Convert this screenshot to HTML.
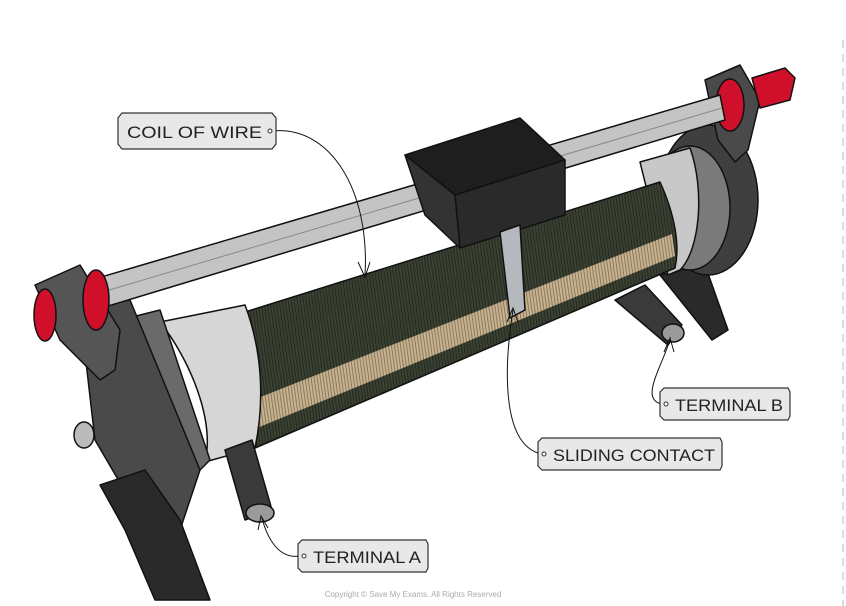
<!DOCTYPE html>
<html><head><meta charset="utf-8"><style>
body{margin:0;background:#fff;}
svg{display:block}
text{font-family:"Liberation Sans",sans-serif;}
</style></head><body>
<svg width="846" height="606" viewBox="0 0 846 606" xmlns="http://www.w3.org/2000/svg">
<defs>
<pattern id="coil" width="3" height="10" patternUnits="userSpaceOnUse" patternTransform="rotate(-8)">
<rect width="3" height="10" fill="#3a4233"/><rect width="1" height="10" fill="#25291f"/>
</pattern>
<pattern id="tan" width="3" height="10" patternUnits="userSpaceOnUse" patternTransform="rotate(-8)">
<rect width="3" height="10" fill="#c8b28f"/><rect width="1" height="10" fill="#8a7a5e"/>
</pattern>
</defs>
<line x1="843" y1="40" x2="843" y2="606" stroke="#ddd" stroke-width="2" stroke-dasharray="8,6"/>
<g stroke="#111" stroke-width="1.5" stroke-linejoin="round">
<polygon points="660,275 705,265 728,330 712,340 680,300" fill="#2a2a2a"/>
<polygon points="615,300 645,285 682,325 668,345" fill="#3a3a3a"/>
<ellipse cx="673" cy="333" rx="11" ry="9" fill="#9a9a9a"/>
<ellipse cx="708" cy="200" rx="50" ry="75" fill="#3f3f3f"/>
<ellipse cx="690" cy="208" rx="40" ry="62" fill="#7a7a7a"/>
<path d="M640,162 L690,148 C705,190 700,250 680,270 L668,275 Z" fill="#c8c8c8"/>
<polygon points="705,80 740,65 760,100 748,150 735,162 718,140" fill="#4a4a4a"/>
<polygon points="752,78 785,68 795,78 790,100 760,108" fill="#d0102b"/>
<ellipse cx="730" cy="105" rx="14" ry="26" fill="#d0102b"/>
<path d="M245,312 L660,182 C675,215 680,245 675,268 L255,448 C265,400 260,350 245,312 Z" fill="url(#coil)"/>
<path d="M258,398 L672,234 L675,256 L257,428 Z" fill="url(#tan)" stroke="none"/>
<path d="M160,322 L245,305 C262,350 265,400 255,448 L205,462 C215,420 190,360 160,322 Z" fill="#d6d6d6"/>
<polygon points="128,318 160,310 210,460 190,480" fill="#6a6a6a"/>
<polygon points="80,310 130,300 200,470 180,530 130,500 95,440" fill="#4a4a4a"/>
<ellipse cx="84" cy="435" rx="10" ry="13" fill="#bbb"/>
<polygon points="100,485 145,470 180,520 210,600 155,600 125,530" fill="#2a2a2a"/>
<polygon points="225,450 252,440 272,510 245,520" fill="#3a3a3a"/>
<ellipse cx="260" cy="513" rx="14" ry="9" fill="#9a9a9a"/>
<polygon points="40,295 720,95 725,120 45,325" fill="#c4c4c4"/>
<line x1="42" y1="310" x2="722" y2="108" stroke="#888" stroke-width="1"/>
<polygon points="35,285 80,265 120,330 115,370 100,380 60,340" fill="#555"/>
<ellipse cx="45" cy="315" rx="11" ry="26" fill="#d0102b"/>
<ellipse cx="96" cy="300" rx="13" ry="30" fill="#d0102b"/>
<polygon points="405,155 520,118 565,160 455,195" fill="#1e1e1e"/>
<polygon points="455,195 565,160 565,215 460,248" fill="#2a2a2a"/>
<polygon points="405,155 455,195 460,248 425,215" fill="#333"/>
<polygon points="500,232 520,225 525,310 510,318" fill="#b5b9bd"/>
</g>
<g fill="none" stroke="#111" stroke-width="1">
<path d="M272,131 C330,125 370,190 365,275"/>
<path d="M358,262 L365,277 L370,262"/>
<path d="M538,453 C500,440 505,360 513,310"/>
<path d="M507,322 L513,308 L518,322"/>
<path d="M662,404 C640,400 660,370 670,340"/>
<path d="M664,352 L670,338 L674,352"/>
<path d="M300,556 C275,560 265,530 262,518"/>
<path d="M258,530 L261,516 L268,528"/>
</g>
<g fill="#e8e8e8" stroke="#333" stroke-width="1.2">
<polygon points="122,113 272,113 276,118 276,144 272,149 122,149 118,144 118,118"/>
<polygon points="664,388 788,388 790,392 790,416 788,420 664,420 660,416 660,392"/>
<polygon points="542,438 720,438 722,442 722,466 720,470 542,470 538,466 538,442"/>
<polygon points="302,540 426,540 428,544 428,568 426,572 302,572 298,568 298,544"/>
</g>
<g fill="#fff" stroke="#333" stroke-width="1">
<circle cx="270" cy="131" r="2"/><circle cx="666" cy="404" r="2"/>
<circle cx="544" cy="454" r="2"/><circle cx="304" cy="556" r="2"/>
</g>
<g font-size="17" fill="#222" xml:space="preserve">
<text x="127" y="138" textLength="135" lengthAdjust="spacingAndGlyphs">COIL  OF  WIRE</text>
<text x="675" y="411" textLength="108" lengthAdjust="spacingAndGlyphs">TERMINAL  B</text>
<text x="553" y="461" textLength="162" lengthAdjust="spacingAndGlyphs">SLIDING  CONTACT</text>
<text x="313" y="563" textLength="108" lengthAdjust="spacingAndGlyphs">TERMINAL  A</text>
</g>
<text x="413" y="597" font-size="8" fill="#aaa" text-anchor="middle">Copyright © Save My Exams. All Rights Reserved</text>
</svg>
</body></html>
